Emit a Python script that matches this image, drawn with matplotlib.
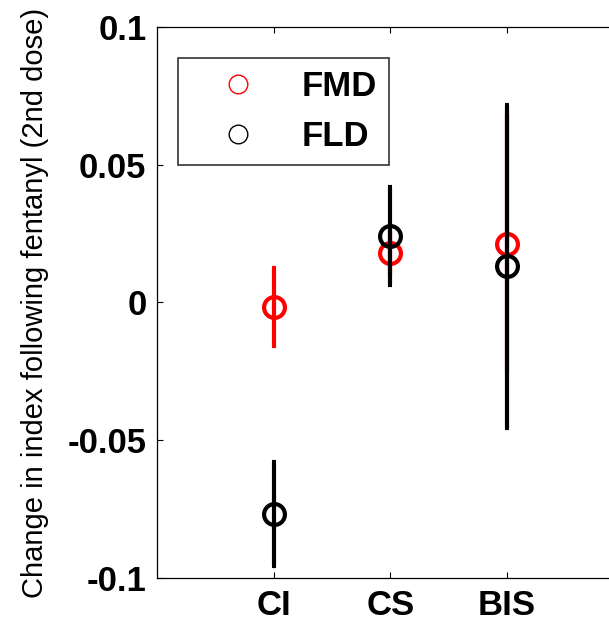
import numpy as np
import matplotlib.pyplot as plt
from matplotlib.lines import Line2D

plt.rcParams['font.family'] = ['Liberation Sans', 'DejaVu Sans']

# categories and values
categories = ['CI', 'CS', 'BIS']
fmd_mean = [-0.0017, 0.0178, 0.0213]
fmd_err = [0.0143, 0.0080, 0.0470]
fld_mean = [-0.0768, 0.0242, 0.0131]
fld_err = [0.0190, 0.0178, 0.0587]

x = np.arange(1, len(categories) + 1)

fig = plt.figure(figsize=(6.09, 6.23), dpi=100)
ax = fig.add_axes([0.2586, 0.0727, 0.765, 0.884])

# FMD first so FLD is drawn on top
ax.errorbar(x, fmd_mean, yerr=fmd_err, fmt='o', color='red', mfc='none',
            ms=15, mew=3, elinewidth=3, capsize=1.5, capthick=3, zorder=2)
ax.errorbar(x, fld_mean, yerr=fld_err, fmt='o', color='black', mfc='none',
            ms=15, mew=3, elinewidth=3, capsize=1.5, capthick=3, zorder=3)

ax.set_xlim(0, 4)
ax.set_ylim(-0.1, 0.1)
ax.set_xticks(x)
ax.set_xticklabels(categories)
ax.set_yticks([-0.1, -0.05, 0, 0.05, 0.1])
ax.set_yticklabels(['-0.1', '-0.05', '0', '0.05', '0.1'])
ax.tick_params(direction='in', length=4, width=0.8, top=True, right=True,
               labelsize=25, pad=8)
for lab in ax.get_xticklabels() + ax.get_yticklabels():
    lab.set_fontweight('bold')
for sp in ax.spines.values():
    sp.set_linewidth(0.9)

ax.set_ylabel('Change in index following fentanyl (2nd dose)', fontsize=21)
ax.yaxis.set_label_coords(-0.233, 0.499)

handles = [Line2D([], [], ls='none', marker='o', ms=13.4, mfc='none', mec='red', mew=1),
           Line2D([], [], ls='none', marker='o', ms=13.4, mfc='none', mec='black', mew=1)]
leg = ax.legend(handles, ['FMD', 'FLD'], loc='upper left',
                bbox_to_anchor=(0.044, 0.944), frameon=True, fancybox=False,
                prop={'weight': 'bold', 'size': 25}, handlelength=2.75,
                handletextpad=0.45, borderpad=0.35, labelspacing=0.5,
                borderaxespad=0, edgecolor='black')
leg.get_frame().set_linewidth(1.2)
leg.set_zorder(5)

fig.savefig('out.png', dpi=100)
